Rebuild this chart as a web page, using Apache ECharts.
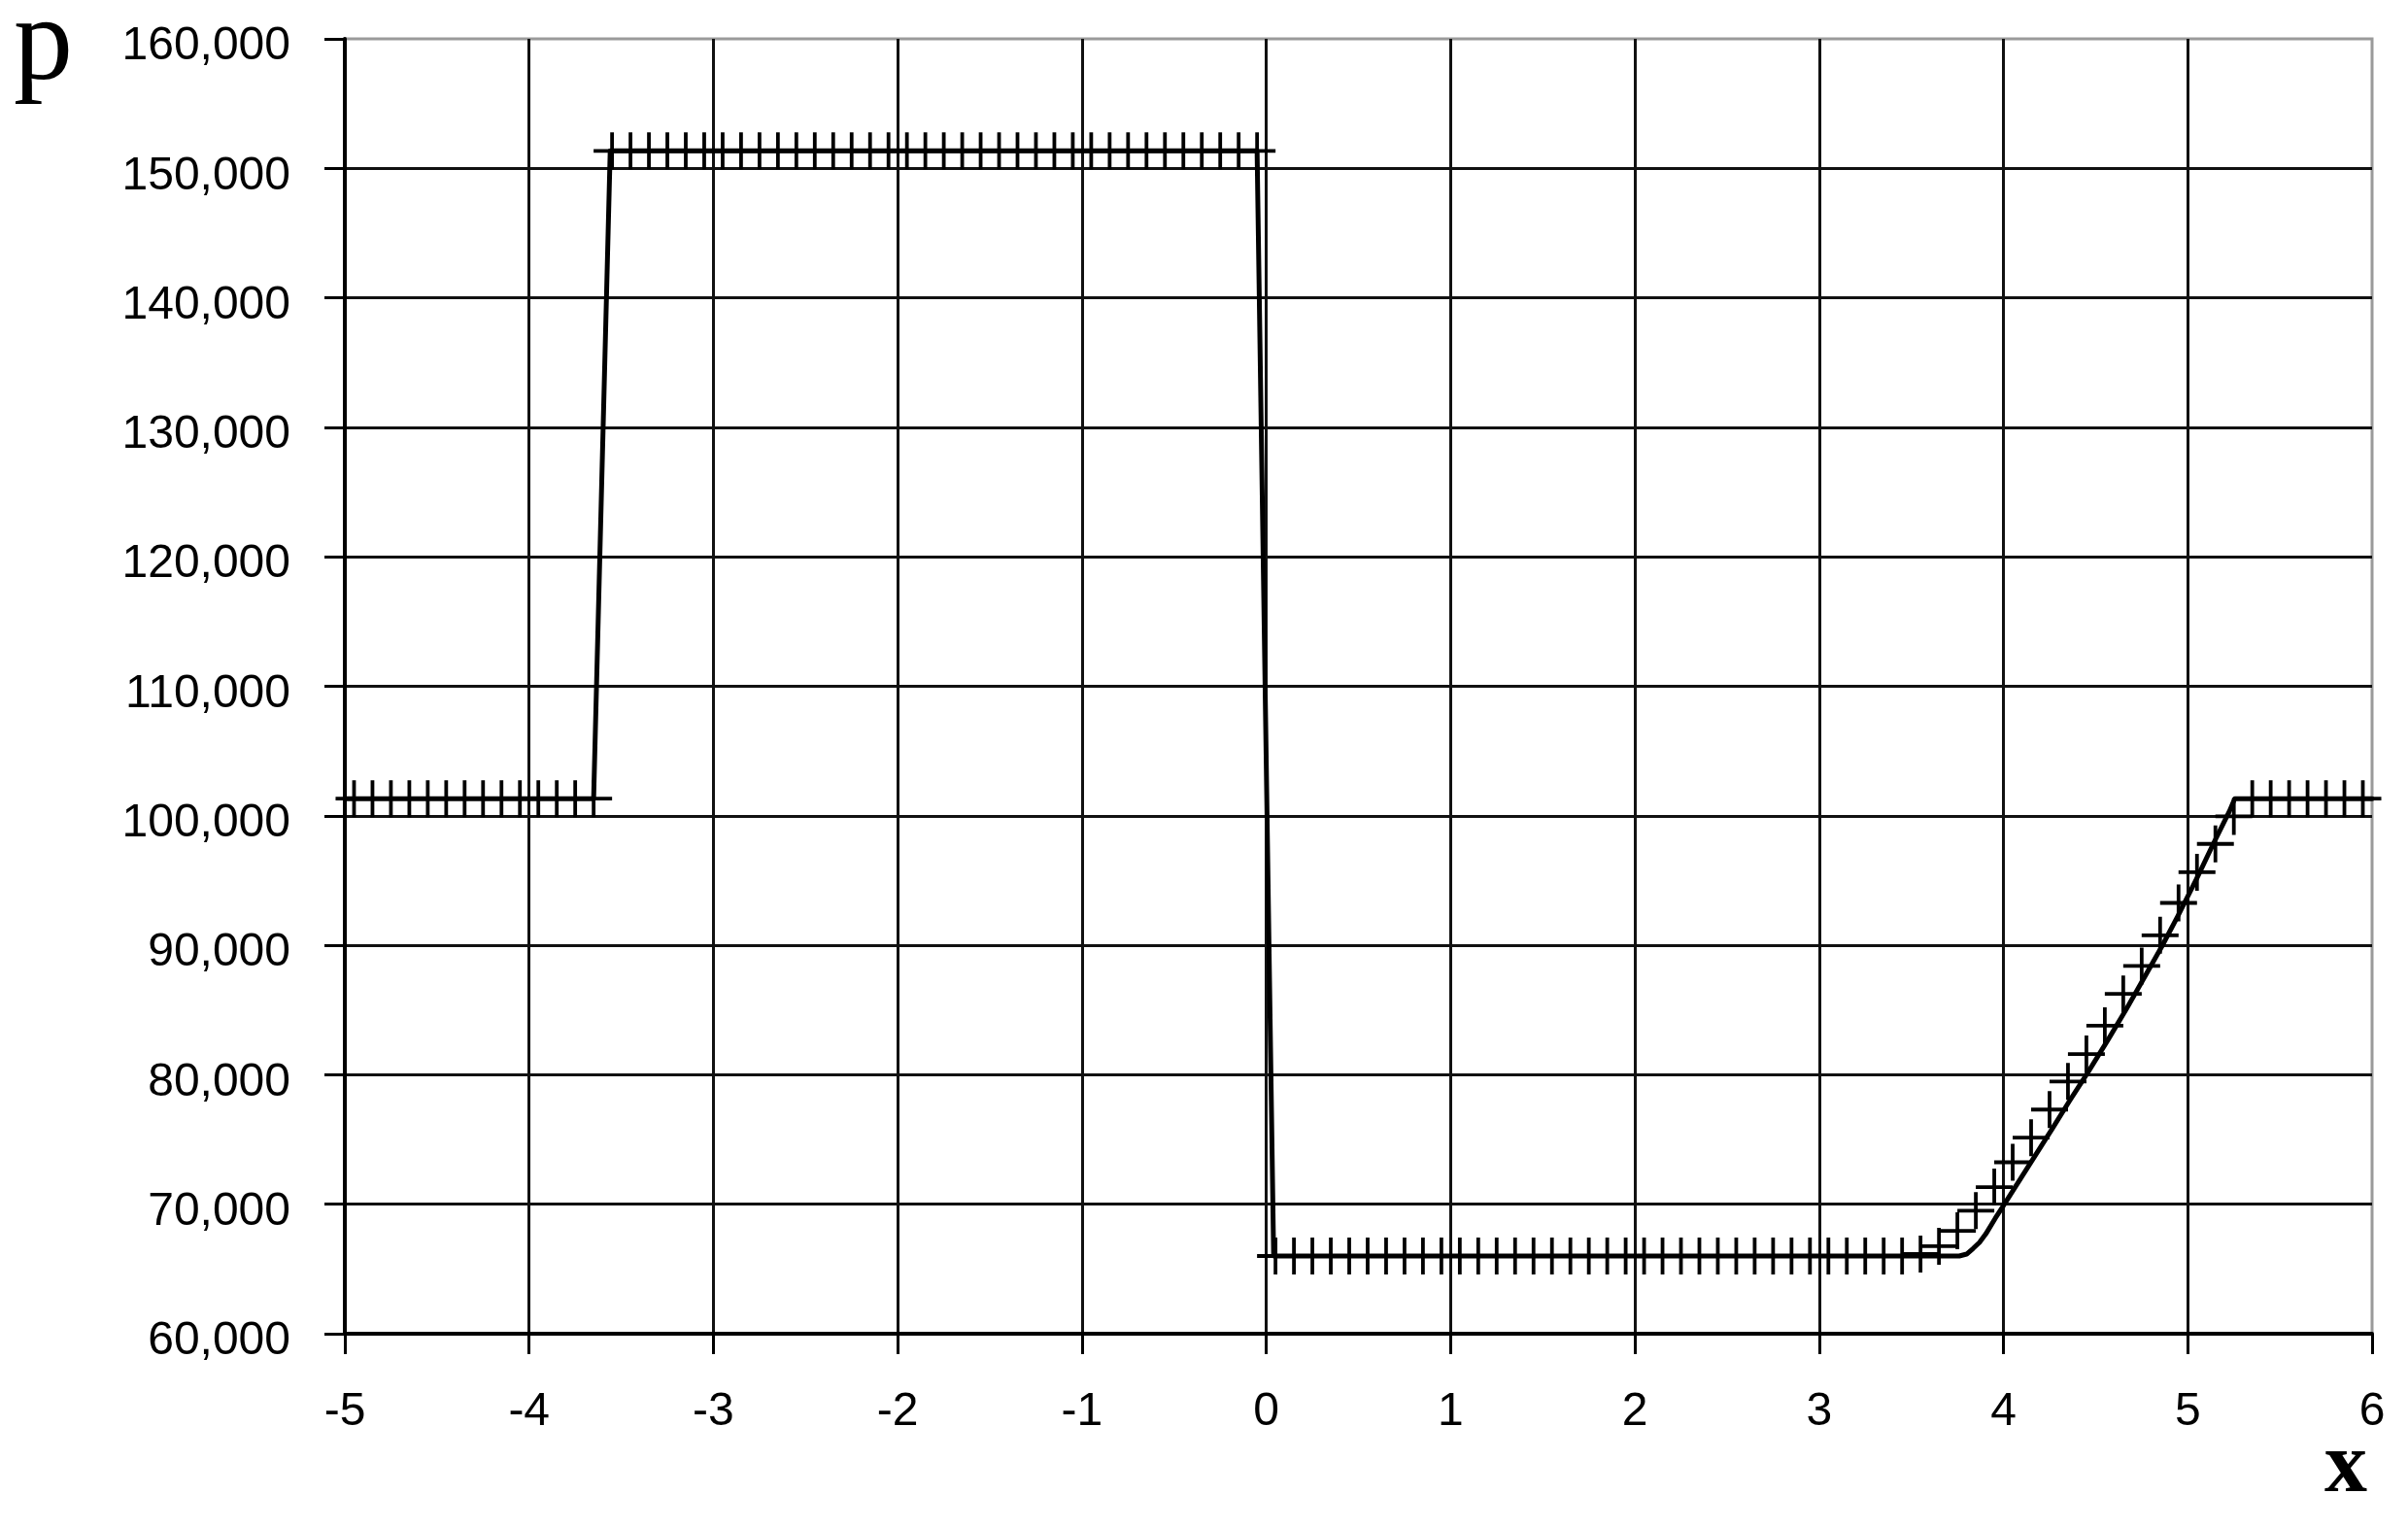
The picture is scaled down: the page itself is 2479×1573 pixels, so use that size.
<!DOCTYPE html>
<html>
<head>
<meta charset="utf-8">
<script src="https://cdn.jsdelivr.net/npm/echarts@6/dist/echarts.min.js"></script>
<style>
html,body{margin:0;padding:0;background:#fff;}
#chart{width:2479px;height:1573px;}
</style>
</head>
<body>
<div id="chart"></div>
<script>
// X tick labels / ranges
var xTicks = [-5,-4,-3,-2,-1,0,1,2,3,4,5,6];
var yTicks = [60000,70000,80000,90000,100000,110000,120000,130000,140000,150000,160000];

// Numerical solution (markers "+")
var numX = [
  -4.95,-4.85,-4.75,-4.65,-4.55,-4.45,-4.35,-4.25,-4.15,-4.05,-3.95,-3.85,-3.75,-3.65,
  -3.55,-3.45,-3.35,-3.25,-3.15,-3.05,-2.95,-2.85,-2.75,-2.65,-2.55,-2.45,-2.35,-2.25,-2.15,-2.05,
  -1.95,-1.85,-1.75,-1.65,-1.55,-1.45,-1.35,-1.25,-1.15,-1.05,-0.95,-0.85,-0.75,-0.65,-0.55,-0.45,
  -0.35,-0.25,-0.15,-0.05,
  0.05,0.15,0.25,0.35,0.45,0.55,0.65,0.75,0.85,0.95,1.05,1.15,1.25,1.35,1.45,1.55,1.65,1.75,1.85,
  1.95,2.05,2.15,2.25,2.35,2.45,2.55,2.65,2.75,2.85,2.95,3.05,3.15,3.25,3.35,3.45,3.55,
  3.65,3.75,3.85,3.95,4.05,4.15,4.25,4.35,4.45,4.55,4.65,4.75,4.85,4.95,5.05,5.15,5.25,
  5.35,5.45,5.55,5.65,5.75,5.85,5.95
];
var numP = [
  101325,101325,101325,101325,101325,101325,101325,101325,101325,101325,101325,101325,101325,101325,
  151350,151350,151350,151350,151350,151350,151350,151350,151350,151350,151350,151350,151350,151350,151350,151350,
  151350,151350,151350,151350,151350,151350,151350,151350,151350,151350,151350,151350,151350,151350,151350,151350,
  151350,151350,151350,151350,
  66000,66000,66000,66000,66000,66000,66000,66000,66000,66000,66000,66000,66000,66000,66000,66000,66000,66000,66000,
  66000,66000,66000,66000,66000,66000,66000,66000,66000,66000,66000,66000,66000,66000,66000,66000,66150,
  66760,67950,69500,71320,73240,75140,77310,79480,81600,83790,86240,88400,90770,93270,95640,97830,99950,
  101325,101325,101325,101325,101325,101325,101325
];

// Exact solution (solid line)
var exX = [-5,-3.65,-3.56,-0.05,0.04,3.76,3.80,3.835,3.87,3.904,3.957,4.0,4.096,4.183,4.27,4.357,4.461,4.565,4.67,4.774,4.861,4.948,5.052,5.139,5.226,5.255,6];
var exP = [101325,101325,151350,151350,66000,66000,66150,66580,67050,67700,68950,69900,72050,74000,75950,77950,80250,82650,85150,87750,89950,92300,95250,97850,100350,101325,101325];

function zip(a,b){var r=[];for(var i=0;i<a.length;i++){r.push([a[i],b[i]]);}return r;}
function fmt(v){return String(v).replace(/\B(?=(\d{3})+(?!\d))/g, ',');}

var chart = echarts.init(document.getElementById('chart'), null, {renderer:'canvas'});
var plus = 'path://M-1.9,-19 H1.9 V-1.9 H19 V1.9 H1.9 V19 H-1.9 V1.9 H-19 V-1.9 H-1.9 Z';

chart.setOption({
  animation:false,
  backgroundColor:'#ffffff',
  grid:{left:355, right:37, top:40, bottom:200, show:true, borderColor:'#9a9a9a', borderWidth:3, backgroundColor:'transparent'},
  xAxis:{
    type:'value', min:xTicks[0], max:xTicks[xTicks.length-1], interval:1,
    axisLine:{show:true, onZero:false, lineStyle:{color:'#000', width:4}},
    axisTick:{show:true, inside:false, length:21, lineStyle:{color:'#000', width:3}},
    axisLabel:{margin:57, fontFamily:'Liberation Sans', fontSize:48, color:'#000', formatter:function(v){return String(v);}},
    splitLine:{show:true, showMaxLine:false, showMinLine:false, lineStyle:{color:'#111', width:3}}
  },
  yAxis:{
    type:'value', min:yTicks[0], max:yTicks[yTicks.length-1], interval:10000,
    axisLine:{show:true, onZero:false, lineStyle:{color:'#000', width:4}},
    axisTick:{show:true, inside:false, length:21, lineStyle:{color:'#000', width:3}},
    axisLabel:{margin:56, fontFamily:'Liberation Sans', fontSize:48, color:'#000', verticalAlign:'top', lineHeight:16, formatter:fmt},
    splitLine:{show:true, showMaxLine:false, showMinLine:false, lineStyle:{color:'#111', width:3}}
  },
  series:[
    {
      type:'line', data:zip(exX,exP), showSymbol:false, symbol:'none', smooth:false,
      lineStyle:{color:'#000', width:5, cap:'round', join:'round'}, z:3
    },
    {
      type:'scatter', data:zip(numX,numP), symbol:plus, symbolSize:38, clip:false,
      itemStyle:{color:'#000', opacity:1}, z:4
    }
  ],
  graphic:[
    {type:'text', x:14, y:49, style:{text:'p', font:'122px "Liberation Serif"', fill:'#000', align:'left', verticalAlign:'middle'}},
    {type:'text', x:2415, y:1512, style:{text:'x', font:'bold 88px "Liberation Serif"', fill:'#000', align:'center', verticalAlign:'middle'}}
  ]
});
</script>
</body>
</html>
